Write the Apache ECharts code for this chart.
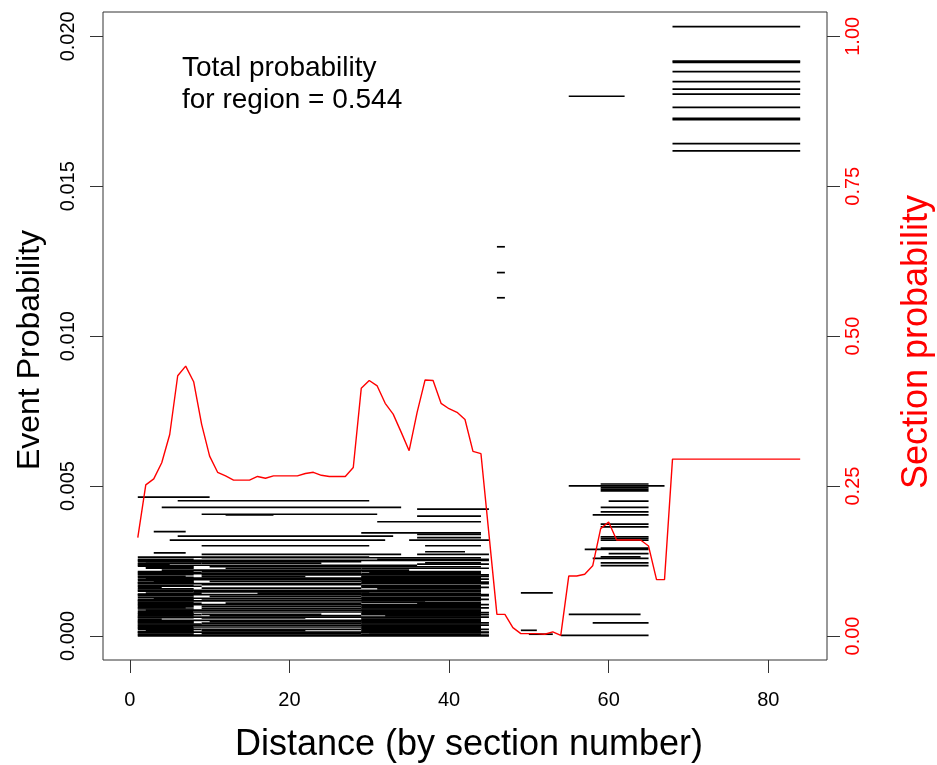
<!DOCTYPE html>
<html><head><meta charset="utf-8">
<script src="https://cdn.jsdelivr.net/npm/echarts@6/dist/echarts.min.js"></script>
<style>html,body{margin:0;padding:0;background:#fff}#c{width:937px;height:765px}</style>
</head><body><div id="c"></div>
<script>
// ---- data ----
const sections = [1,2,3,4,5,6,7,8,9,10,11,12,13,14,15,16,17,18,19,20,21,22,23,24,25,26,27,28,29,30,31,32,33,34,35,36,37,38,39,40,41,42,43,44,45,46,47,48,49,50,51,52,53,54,55,56,57,58,59,60,61,62,63,64,65,66,67,68,69,70,71,72,73,74,75,76,77,78,79,80,81,82,83,84];
const sectionProb = [0.164,0.252,0.262,0.289,0.336,0.434,0.450,0.424,0.353,0.300,
  0.273,0.267,0.260,0.260,0.260,0.266,0.263,0.267,0.267,0.267,
  0.267,0.271,0.273,0.268,0.266,0.266,0.266,0.281,0.413,0.426,
  0.417,0.388,0.370,0.340,0.309,0.373,0.427,0.426,0.388,0.379,
  0.373,0.361,0.308,0.304,0.170,0.036,0.036,0.014,0.004,0.004,
  0.004,0.003,0.007,0.001,0.100,0.100,0.103,0.117,0.179,0.190,
  0.160,0.160,0.160,0.160,0.150,0.094,0.094,0.295,0.295,0.295,
  0.295,0.295,0.295,0.295,0.295,0.295,0.295,0.295,0.295,0.295,
  0.295,0.295,0.295,0.295];

// events: [startSection, endSection, eventProbability]
const topEvents = [[68,84,0.02032],[68,84,0.01917],[68,84,0.01913],[68,84,0.01882],[68,84,0.01849],[68,84,0.01824],[68,84,0.01807],[68,84,0.01763],[68,84,0.01726],[68,84,0.01722],[68,84,0.01642],[68,84,0.01618]];
const midEvents = [[46,47,0.01298],[46,47,0.01212],[46,47,0.01128],[55,62,0.01800],[49,53,0.00144],[49,51,0.00019],[50,53,0.00006]];
const rightEvents = [[55,67,0.00501],[59,65,0.00507],[59,65,0.00496],[59,65,0.00490],[59,65,0.00484],[60,65,0.00450],[59,65,0.00429],[59,65,0.00414],[58,65,0.00404],[59,65,0.00373],[59,65,0.00364],[59,65,0.00331],[59,65,0.00326],[59,65,0.00320],[57,65,0.00289],[59,65,0.00293],[60,65,0.00275],[59,64,0.00264],[58,65,0.00259],[59,65,0.00244],[59,65,0.00235],[55,64,0.00072],[58,65,0.00044],[54,65,0.00002]];
const upperEvents = [[1,10,0.00463],[6,30,0.00451],[4,34,0.00429],[36,45,0.00423],[9,31,0.00406],[12,18,0.00404],[36,44,0.00400],[31,44,0.00381],[3,7,0.00348],[29,44,0.00344],[36,44,0.00339],[6,33,0.00333],[36,44,0.00328],[5,32,0.00320],[35,45,0.00320],[9,30,0.00301],[37,44,0.00301],[37,42,0.00281],[3,7,0.00277],[9,34,0.00272],[36,45,0.00272]];
const bandEvents = [[1,30,0.00263],[9,44,0.00261],[1,45,0.00252],[2,29,0.00248],[1,36,0.00236],[10,44,0.00231],[4,35,0.00220],[1,29,0.00208],[9,45,0.00204],[2,44,0.00193],[7,31,0.00188],[1,45,0.00175],[9,29,0.00171],[1,44,0.00152],[8,30,0.00147],[1,45,0.00138],[10,29,0.00132],[3,44,0.00126],[1,37,0.00117],[1,45,0.00105],[9,29,0.00099],[2,44,0.00086],[8,29,0.00080],[1,45,0.00063],[9,22,0.00060],[1,44,0.00052],[10,29,0.00048],[1,45,0.00036],[8,29,0.00030],[1,45,0.00013],[9,29,0.00008],[1,45,0.00003],[1,45,0.00000]];
const middleEvents = [[9,24,0.00243],[12,29,0.00226],[9,29,0.00214],[9,22,0.00198],[10,29,0.00182],[9,29,0.00160],[16,29,0.00143],[9,29,0.00120],[12,29,0.00110],[9,29,0.00092],[9,24,0.00072],[10,29,0.00068],[9,29,0.00043],[9,29,0.00022],[9,22,0.00018]];
const leftEvents = [[1,8,0.00256],[1,9,0.00243],[1,5,0.00240],[2,8,0.00226],[1,8,0.00215],[1,9,0.00212],[1,7,0.00199],[3,8,0.00183],[1,8,0.00180],[1,9,0.00166],[1,4,0.00162],[1,8,0.00157],[2,9,0.00143],[1,8,0.00122],[1,8,0.00112],[1,9,0.00109],[1,7,0.00094],[1,8,0.00090],[1,8,0.00075],[1,9,0.00071],[1,8,0.00067],[1,4,0.00056],[1,8,0.00044],[1,9,0.00040],[1,8,0.00026],[1,9,0.00022],[2,8,0.00018],[1,8,0.00011],
  [1,8,0.00250],[1,8,0.00233],[2,8,0.00229],[1,8,0.00205],[1,8,0.00196],[1,8,0.00190],[1,8,0.00186],[1,8,0.00177],[1,8,0.00169],[1,8,0.00150],[1,8,0.00140],[1,8,0.00135],[1,8,0.00129],[1,8,0.00119],[1,8,0.00102],[1,8,0.00097],[1,8,0.00083],[1,8,0.00078],[1,8,0.00061],[1,8,0.00050],[1,8,0.00047],[1,8,0.00033],[1,8,0.00029],[1,8,0.00015],[1,8,0.00006]];
const rightBlockEvents = [[31,45,0.00256],[37,44,0.00244],[36,45,0.00240],[29,45,0.00226],[29,44,0.00215],[30,44,0.00212],[29,45,0.00199],[29,44,0.00183],[36,45,0.00180],[29,44,0.00166],[29,45,0.00162],[31,44,0.00157],[29,44,0.00143],[29,45,0.00122],[29,44,0.00112],[36,44,0.00109],[29,45,0.00094],[29,44,0.00090],[29,44,0.00075],[29,45,0.00071],[32,44,0.00067],[29,44,0.00056],[29,45,0.00044],[29,44,0.00040],[29,44,0.00026],[29,45,0.00022],[29,44,0.00018],[30,45,0.00011],
  [29,44,0.00207],[29,44,0.00196],[29,45,0.00190],[29,44,0.00186],[29,44,0.00178],[29,44,0.00168],[29,44,0.00150],[29,44,0.00140],[29,45,0.00135],[29,44,0.00129],[29,44,0.00119],[29,44,0.00102],[29,44,0.00097],[29,44,0.00083],[29,45,0.00078],[29,44,0.00061],[29,44,0.00050],[29,44,0.00047],[29,44,0.00033],[29,44,0.00029],[29,44,0.00015],[29,44,0.00006]];

const xTicks = [0,20,40,60,80];
const leftTicks = [0,0.005,0.010,0.015,0.020];
const rightTicks = [0,0.25,0.50,0.75,1.00];

const annotation = 'Total probability\nfor region = 0.544';
const xTitle = 'Distance (by section number)';
const leftTitle = 'Event Probability';
const rightTitle = 'Section probability';

// ---- chart ----
const FONT = '"Liberation Sans", Arial, Helvetica, sans-serif';
const allEvents = [].concat(topEvents, midEvents, rightEvents, upperEvents, bandEvents, middleEvents, leftEvents, rightBlockEvents);
const chart = echarts.init(document.getElementById('c'), null, {renderer:'canvas'});
const tickStyle = {color:'#333', width:1};
chart.setOption({
  animation:false,
  backgroundColor:'#fff',
  grid:{left:103, right:110, top:12, bottom:105, show:true, borderColor:'#333', borderWidth:1, backgroundColor:'transparent'},
  xAxis:{type:'value', min:-3.36, max:87.36, position:'bottom',
    axisLine:{show:false, onZero:false}, splitLine:{show:false},
    axisTick:{show:true, inside:false, length:13, customValues:xTicks, lineStyle:tickStyle},
    axisLabel:{customValues:xTicks, fontSize:20, fontFamily:FONT, color:'#000', margin:30}},
  yAxis:[
    {type:'value', min:-0.0008, max:0.02081, position:'left',
     axisLine:{show:false, onZero:false}, splitLine:{show:false},
     axisTick:{show:true, inside:false, length:13, customValues:leftTicks, lineStyle:tickStyle},
     axisLabel:{customValues:leftTicks, rotate:90, fontSize:20, fontFamily:FONT, color:'#000', margin:25,
       formatter:v=>v.toFixed(3)}},
    {type:'value', min:-0.04, max:1.0405, position:'right',
     axisLine:{show:false, onZero:false}, splitLine:{show:false},
     axisTick:{show:true, inside:false, length:13, customValues:rightTicks, lineStyle:tickStyle},
     axisLabel:{customValues:rightTicks, rotate:90, fontSize:20, fontFamily:FONT, color:'#ff0000', margin:16,
       formatter:v=>v.toFixed(2)}}
  ],
  series:[
    {type:'custom', xAxisIndex:0, yAxisIndex:0, clip:true, silent:true,
     encode:{x:[0,1], y:2},
     data: allEvents,
     renderItem:function(params, api){
       const p1 = api.coord([api.value(0), api.value(2)]);
       const p2 = api.coord([api.value(1), api.value(2)]);
       return {type:'line', shape:{x1:p1[0], y1:p1[1], x2:p2[0], y2:p2[1]}, style:{stroke:'#000', lineWidth:1.7}};
     }},
    {type:'line', xAxisIndex:0, yAxisIndex:1, symbol:'none', silent:true, z:5,
     data: sections.map((s,i)=>[s, sectionProb[i]]),
     lineStyle:{color:'#ff0000', width:1.4}}
  ],
  graphic:[
    {type:'text', left:182, top:52, style:{text:annotation, font:'28px '+FONT, fill:'#000', lineHeight:32}},
    {type:'text', x:469, y:745, style:{text:xTitle, font:'36px '+FONT, fill:'#000', align:'center', verticalAlign:'middle'}},
    {type:'text', x:30, y:350, rotation:Math.PI/2, style:{text:leftTitle, font:'32px '+FONT, fill:'#000', align:'center', verticalAlign:'middle'}},
    {type:'text', x:917, y:342, rotation:Math.PI/2, style:{text:rightTitle, font:'36px '+FONT, fill:'#ff0000', align:'center', verticalAlign:'middle'}}
  ]
});
</script>
</body></html>
